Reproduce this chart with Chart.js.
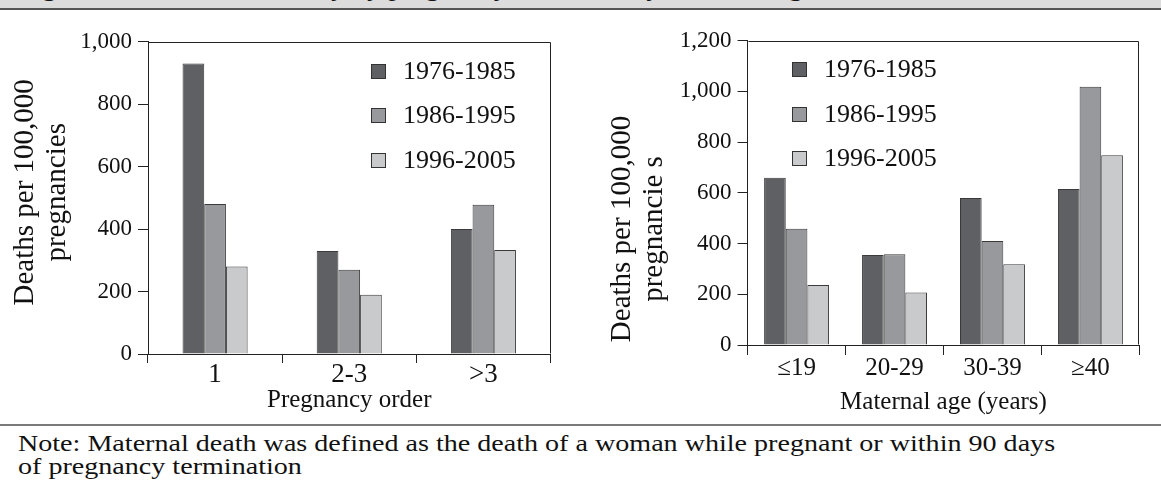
<!DOCTYPE html>
<html>
<head>
<meta charset="utf-8">
<script src="https://cdn.jsdelivr.net/npm/chart.js@4.4.1/dist/chart.umd.min.js"></script>
<style>
  body { margin: 0; width: 1161px; height: 483px; background: #fff; position: relative; overflow: hidden; font-family: "Liberation Serif", serif; color: #111; }
  #faixa { position: absolute; left: 0; top: 0; width: 1161px; height: 8px; background: #dcdcdc; border-bottom: 2px solid #555; overflow: hidden; }
  #faixa span { position: absolute; left: 18px; top: -24px; font-size: 25px; line-height: 24px; white-space: nowrap; transform: scaleX(1.15); transform-origin: left top; }
  .grafico { position: absolute; top: 12px; }
  #divisor { position: absolute; left: 0; top: 424px; width: 1161px; height: 2px; background: #7a7a7a; }
  #nota { position: absolute; left: 18px; top: 432px; font-size: 24px; line-height: 23px; white-space: nowrap; transform: scaleX(1.17); transform-origin: left top; }
</style>
</head>
<body>
<div id="faixa"><span>Figure 2. Maternal mortality by pregnancy order and by maternal age, 1976-2005</span></div>
<canvas id="graficoOrdem" class="grafico" width="580" height="408" style="left:0px"></canvas>
<canvas id="graficoIdade" class="grafico" width="581" height="408" style="left:580px"></canvas>
<div id="divisor"></div>
<div id="nota">Note: Maternal death was defined as the death of a woman while pregnant or within 90 days<br>of pregnancy termination</div>

<script>
// Dados (mortes por 100.000 gestações)
const periodos = ['1976-1985', '1986-1995', '1996-2005'];
const coresPeriodos = ['#5f6064', '#98999d', '#c9cacc'];

const ordemGravidez = ['1', '2-3', '>3'];
const ordem7685 = [930, 330, 400];
const ordem8695 = [480, 270, 478];
const ordem9605 = [280, 190, 333];

const faixasIdade = ['≤19', '20-29', '30-39', '≥40'];
const idade7685 = [660, 355, 580, 615];
const idade8695 = [458, 358, 410, 1018];
const idade9605 = [237, 207, 318, 748];

const fonte = '"Liberation Serif", "Times New Roman", serif';
const corTexto = '#111';
const corLinha = '#222';

// Moldura em volta da área do gráfico (linhas de cima e da direita)
const molduraPlugin = {
    id: 'moldura',
    afterDatasetsDraw(chart) {
        const { ctx, chartArea: a } = chart;
        ctx.save();
        ctx.strokeStyle = corLinha;
        ctx.lineWidth = 1;
        const l = Math.round(a.left) + 0.5, r = Math.round(a.right) - 0.5;
        const t = Math.round(a.top) + 0.5, b = Math.round(a.bottom) - 0.5;
        ctx.beginPath();
        ctx.moveTo(l, t); ctx.lineTo(r, t); ctx.lineTo(r, b);
        ctx.stroke();
        ctx.restore();
    }
};

// Legenda vertical dentro da área do gráfico
const legendaPlugin = {
    id: 'legendaCaixa',
    afterDraw(chart, args, opts) {
        const { ctx, chartArea: a } = chart;
        ctx.save();
        ctx.font = opts.tamanho + 'px ' + fonte;
        ctx.textBaseline = 'middle';
        chart.data.datasets.forEach((ds, i) => {
            const y = Math.round(a.top + opts.topo + i * opts.passo);
            const x = Math.round(a.left + opts.esquerda);
            ctx.fillStyle = ds.backgroundColor;
            ctx.fillRect(x, y - 7, 15, 15);
            ctx.strokeStyle = '#333';
            ctx.lineWidth = 1;
            ctx.strokeRect(x + 0.5, y - 6.5, 14, 14);
            ctx.fillStyle = corTexto;
            ctx.fillText(ds.label, x + 32, y + 1);
        });
        ctx.restore();
    }
};

// Título do eixo Y em duas linhas, girado
const tituloYPlugin = {
    id: 'tituloY',
    afterDraw(chart, args, opts) {
        const ctx = chart.ctx;
        ctx.save();
        ctx.font = opts.tamanho + 'px ' + fonte;
        ctx.fillStyle = corTexto;
        ctx.textAlign = 'center';
        ctx.textBaseline = 'alphabetic';
        opts.linhas.forEach((linha, i) => {
            ctx.save();
            ctx.translate(opts.x[i], opts.centroY);
            ctx.rotate(-Math.PI / 2);
            ctx.fillText(linha, 0, 0);
            ctx.restore();
        });
        ctx.restore();
    }
};

function criarGrafico(id, categorias, series, cfg) {
    return new Chart(document.getElementById(id), {
        type: 'bar',
        data: {
            labels: categorias,
            datasets: series.map((valores, i) => ({
                label: periodos[i],
                data: valores,
                backgroundColor: coresPeriodos[i],
                borderColor: '#3a3a3a',
                borderWidth: 1,
                categoryPercentage: cfg.larguraCategoria,
                barPercentage: 1
            }))
        },
        options: {
            responsive: false,
            animation: false,
            devicePixelRatio: 1,
            layout: { padding: { left: 0, top: cfg.topo, right: cfg.direita, bottom: 0 } },
            plugins: {
                legend: { display: false },
                tooltip: { enabled: false },
                legendaCaixa: cfg.legenda,
                tituloY: cfg.tituloY
            },
            scales: {
                x: {
                    afterFit: (s) => { s.height = cfg.alturaX; },
                    grid: { display: true, drawOnChartArea: false, drawTicks: true, tickLength: cfg.tickX, color: corLinha, offset: true },
                    border: { display: true, color: corLinha, width: 1 },
                    ticks: { color: corTexto, font: { family: fonte, size: cfg.fonteX }, padding: cfg.padX, maxRotation: 0 },
                    title: { display: true, text: cfg.tituloX, color: corTexto, font: { family: fonte, size: 25 }, padding: { top: 0, bottom: cfg.padTituloX } }
                },
                y: {
                    min: 0,
                    max: cfg.maximo,
                    afterFit: (s) => { s.width = cfg.larguraY; },
                    grid: { display: true, drawOnChartArea: false, drawTicks: true, tickLength: 10, color: corLinha },
                    border: { display: true, color: corLinha, width: 1 },
                    ticks: { stepSize: 200, color: corTexto, font: { family: fonte, size: 23 }, padding: 6 }
                }
            }
        },
        plugins: [molduraPlugin, legendaPlugin, tituloYPlugin]
    });
}

criarGrafico('graficoOrdem', ordemGravidez, [ordem7685, ordem8695, ordem9605], {
    larguraCategoria: 0.485,
    topo: 29.7, direita: 29.5,
    larguraY: 148, alturaX: 66,
    tickX: 9, padX: -4, fonteX: 27,
    tituloX: 'Pregnancy order', padTituloX: 5,
    maximo: 1000,
    legenda: { esquerda: 223, topo: 29, passo: 44.7, tamanho: 26 },
    tituloY: { linhas: ['Deaths per 100,000', 'pregnancies'], x: [33.3, 64.8], centroY: 180.3, tamanho: 29 }
});

criarGrafico('graficoIdade', faixasIdade, [idade7685, idade8695, idade9605], {
    larguraCategoria: 0.663,
    topo: 28.7, direita: 21.6,
    larguraY: 167.6, alturaX: 75,
    tickX: 10, padX: -2, fonteX: 25,
    tituloX: 'Maternal age (years)', padTituloX: 3,
    maximo: 1200,
    legenda: { esquerda: 44.4, topo: 28.6, passo: 44.2, tamanho: 26 },
    tituloY: { linhas: ['Deaths per 100,000', 'pregnancie s'], x: [50, 81.5], centroY: 217, tamanho: 29 }
});
</script>
</body>
</html>
